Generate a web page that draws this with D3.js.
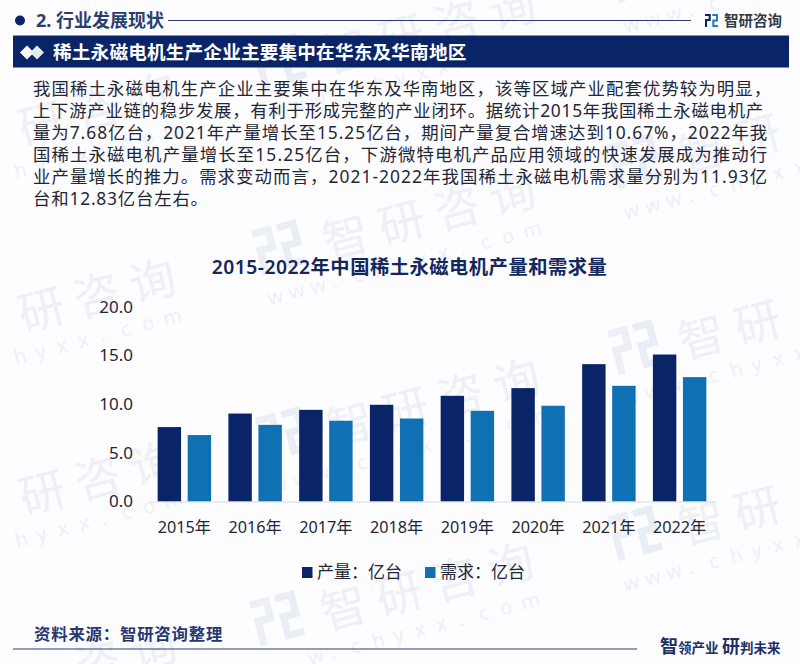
<!DOCTYPE html>
<html>
<head>
<meta charset="utf-8">
<script src="https://cdn.jsdelivr.net/npm/d3@7"></script>
<style>
  html, body { margin: 0; padding: 0; background: #fdfdff; }
  svg { display: block; }
  text { font-family: "Noto Sans", "Noto Sans CJK SC", sans-serif; }
</style>
</head>
<body>
<svg id="chart" width="800" height="664"></svg>
<script>
// chart values
var years = ["2015年", "2016年", "2017年", "2018年", "2019年", "2020年", "2021年", "2022年"];
var seriesNames = ["产量：亿台", "需求：亿台"];
var output = [7.64, 9.03, 9.41, 9.93, 10.85, 11.64, 14.1, 15.09];
var demand = [6.82, 7.87, 8.29, 8.52, 9.31, 9.83, 11.88, 12.77];
var yTicks = [0, 5, 10, 15, 20];

var sectionTitle = "2. 行业发展现状";
var bannerTitle = "稀土永磁电机生产企业主要集中在华东及华南地区";
var chartTitle = "2015-2022年中国稀土永磁电机产量和需求量";
var brandName = "智研咨询";
var siteName = "www.chyxx.com";
var sourceText = "资料来源：智研咨询整理";
var bodyLines = [
  "我国稀土永磁电机生产企业主要集中在华东及华南地区，该等区域产业配套优势较为明显，",
  "上下游产业链的稳步发展，有利于形成完整的产业闭环。据统计2015年我国稀土永磁电机产",
  "量为7.68亿台，2021年产量增长至15.25亿台，期间产量复合增速达到10.67%，2022年我",
  "国稀土永磁电机产量增长至15.25亿台，下游微特电机产品应用领域的快速发展成为推动行",
  "业产量增长的推力。需求变动而言，2021-2022年我国稀土永磁电机需求量分别为11.93亿",
  "台和12.83亿台左右。"
];
// justified widths of the paragraph lines, last line runs free
var bodyWidths = [739, 731, 735, 735, 735, null];

var NAVY = "#0a2468", BLUE = "#0f70b3", INK = "#1f2736";

var svg = d3.select("#chart");

// logo: two interlocking strokes, used big (watermark) and small (top right)
function drawLogo(g, size, c1, c2) {
  var u = size / 10;
  var p1 = "M0 0H" + 4.4*u + "V" + 5.4*u + "H" + 1.6*u + "V" + 10*u + "H0V" + 3.8*u + "H" + 2.8*u + "V" + 1.6*u + "H0Z";
  var p2 = "M" + 5.6*u + " 0H" + 10*u + "V" + 5.8*u + "H" + 7.2*u + "V" + 8.4*u + "H" + 10*u + "V" + 10*u + "H" + 5.6*u + "V" + 4.2*u + "H" + 8.4*u + "V" + 1.6*u + "H" + 5.6*u + "Z";
  g.append("path").attr("d", p1).attr("fill", c1);
  g.append("path").attr("d", p2).attr("fill", c2);
}

// watermarks: centre of the first big glyph of each stamp
var stamps = [
  [-14, 139], [-14, 325], [-13, 508], [-13, 692],
  [346, 52], [346, 238], [350, 425], [344, 609],
  [702, -34], [702, 152], [702, 338], [702, 524]
];
var wmAngle = -14.6, wmRad = wmAngle * Math.PI / 180;
var wm = svg.append("g");

function onCanvas(s, lx, ly) {
  var px = s[0] + lx * Math.cos(wmRad) - ly * Math.sin(wmRad);
  var py = s[1] + lx * Math.sin(wmRad) + ly * Math.cos(wmRad);
  return px > 0 && px < 800 && py > 0 && py < 664;
}

stamps.forEach(function (s) {
  var g = wm.append("g").attr("transform", "translate(" + s[0] + "," + s[1] + ") rotate(" + wmAngle + ")");
  drawLogo(g.append("g").attr("transform", "translate(-90,-31)"), 46, "#ecf0f6", "#e9eef6");
  brandName.split("").forEach(function (c, i) {
    if (!onCanvas(s, i * 57.4, 0)) return;
    g.append("text").attr("x", i * 57.4).attr("y", 16).attr("text-anchor", "middle")
      .attr("font-size", 46).attr("fill", "#eef0f5").text(c);
  });
  siteName.split("").forEach(function (c, i) {
    if (!onCanvas(s, -91 + i * 22, 40)) return;
    g.append("text").attr("x", -91 + i * 22).attr("y", 46)
      .attr("font-size", 20).attr("fill", "#eef0f5").text(c);
  });
});

// section header
svg.append("circle").attr("cx", 20).attr("cy", 20.5).attr("r", 5).attr("fill", NAVY);
svg.append("text").attr("x", 36).attr("y", 27)
  .attr("font-size", 18).attr("font-weight", 700).attr("fill", "#2b3f6e").text(sectionTitle);
svg.append("line").attr("x1", 168).attr("x2", 691).attr("y1", 20.5).attr("y2", 20.5)
  .attr("stroke", "#2b3f6e").attr("stroke-width", 1.2);
drawLogo(svg.append("g").attr("transform", "translate(705,14)"), 13, NAVY, "#1e7fd0");
svg.append("text").attr("x", 724).attr("y", 26)
  .attr("font-size", 14.5).attr("font-weight", 700).attr("fill", "#333a47").text(brandName);

// banner
svg.append("rect").attr("x", 13).attr("y", 35.5).attr("width", 776).attr("height", 32).attr("fill", NAVY);
[[27, "#ffffff"], [37, "#e4e8f2"]].forEach(function (d) {
  svg.append("path")
    .attr("d", "M" + (d[0] - 7) + " 52.5L" + d[0] + " 45.5L" + (d[0] + 7) + " 52.5L" + d[0] + " 59.5Z")
    .attr("fill", d[1]);
});
svg.append("text").attr("x", 53).attr("y", 59)
  .attr("font-size", 18.6).attr("font-weight", 700).attr("letter-spacing", 0.2)
  .attr("fill", "#ffffff").text(bannerTitle);

// body text
svg.append("g").selectAll("text").data(bodyLines).enter().append("text")
  .attr("x", 33)
  .attr("y", function (d, i) { return 95 + i * 21.9; })
  .attr("font-size", 17.4).attr("letter-spacing", 0.8)
  .attr("fill", INK)
  .each(function (d, i) {
    if (bodyWidths[i]) d3.select(this).attr("textLength", bodyWidths[i]).attr("lengthAdjust", "spacing");
  })
  .text(function (d) { return d; });

// chart title
svg.append("text").attr("x", 409.5).attr("y", 273.5).attr("text-anchor", "middle")
  .attr("font-size", 19.3).attr("font-weight", 600).attr("letter-spacing", 0.5)
  .attr("fill", "#14275c").text(chartTitle);

// scales
var x = d3.scaleBand().domain(years).range([149, 715]);
var xInner = d3.scaleBand().domain([0, 1]).range([0, x.bandwidth()])
  .paddingInner(0.22).paddingOuter(0.288);
var y = d3.scaleLinear().domain([0, 20]).range([501.5, 306.7]);

// bars
var groups = svg.append("g").selectAll("g").data(years).enter().append("g")
  .attr("transform", function (d) { return "translate(" + x(d) + ",0)"; });

[output, demand].forEach(function (values, k) {
  groups.append("rect")
    .attr("x", xInner(k))
    .attr("width", xInner.bandwidth())
    .attr("y", function (d, i) { return y(values[i]); })
    .attr("height", function (d, i) { return y(0) - y(values[i]); })
    .attr("fill", k == 0 ? NAVY : BLUE);
});

// axes
var xAxis = svg.append("g").attr("transform", "translate(0," + y(0) + ")")
  .call(d3.axisBottom(x).tickSize(0).tickPadding(20));
xAxis.select(".domain").attr("stroke", "#d9dbe0");
xAxis.selectAll("text").attr("font-size", 16.2).attr("fill", INK)
  .style("font-family", '"Noto Sans", "Noto Sans CJK SC", sans-serif');

var yAxis = svg.append("g").attr("transform", "translate(133,0)")
  .call(d3.axisLeft(y).tickValues(yTicks).tickSize(0).tickPadding(0).tickFormat(d3.format(".1f")));
yAxis.select(".domain").remove();
yAxis.selectAll("text").attr("font-size", 17).attr("fill", INK)
  .style("font-family", '"Noto Sans", "Noto Sans CJK SC", sans-serif');

// legend
var legendColors = [NAVY, BLUE];
var legendX = d3.scaleOrdinal().domain(seriesNames).range([302, 425]);
var legend = svg.append("g").selectAll("g").data(seriesNames).enter().append("g")
  .attr("transform", function (d) { return "translate(" + legendX(d) + ",567)"; });
legend.append("rect").attr("width", 10.5).attr("height", 11)
  .attr("fill", function (d, i) { return legendColors[i]; });
legend.append("text").attr("x", 15).attr("y", 11)
  .attr("font-size", 17).attr("fill", INK)
  .text(function (d) { return d; });

// footer
svg.append("text").attr("x", 34).attr("y", 640)
  .attr("font-size", 16.4).attr("font-weight", 700).attr("letter-spacing", 0.8)
  .attr("fill", "#26386e").text(sourceText);
svg.append("line").attr("x1", 13).attr("x2", 637).attr("y1", 649).attr("y2", 649)
  .attr("stroke", "#2b3f6e").attr("stroke-width", 1.2);
var slogan = svg.append("text").attr("x", 660).attr("y", 653)
  .attr("font-weight", 700).attr("fill", "#1d2f66");
slogan.append("tspan").attr("font-size", 18).text("智");
slogan.append("tspan").attr("font-size", 13.5).text("领产业 ");
slogan.append("tspan").attr("font-size", 18).text("研");
slogan.append("tspan").attr("font-size", 13.5).text("判未来");
</script>
</body>
</html>
